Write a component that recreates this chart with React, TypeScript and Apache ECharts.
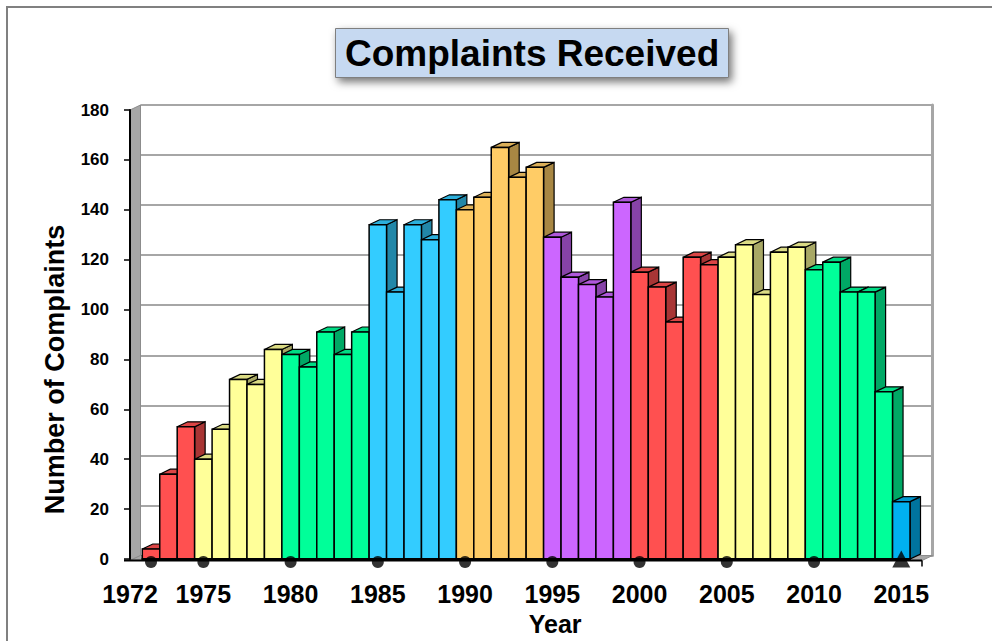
import React, { useEffect, useRef } from 'react';
import * as echarts from 'echarts';

// ---------------- data ----------------
const years: string[] = [
  '1972', '1973', '1974',
  '1975', '1976', '1977', '1978', '1979',
  '1980', '1981', '1982', '1983', '1984',
  '1985', '1986', '1987', '1988', '1989',
  '1990', '1991', '1992', '1993', '1994',
  '1995', '1996', '1997', '1998', '1999',
  '2000', '2001', '2002', '2003', '2004',
  '2005', '2006', '2007', '2008', '2009',
  '2010', '2011', '2012', '2013', '2014',
  '2015',
];
const complaints: number[] = [
  4, 34, 53,
  40, 52, 72, 70, 84,
  82, 77, 91, 82, 91,
  134, 107, 134, 128, 144,
  140, 145, 165, 153, 157,
  129, 113, 110, 105, 143,
  115, 109, 95, 121, 118,
  121, 126, 106, 123, 125,
  116, 119, 107, 107, 67,
  23,
];
const labelYears: string[] = ['1972', '1975', '1980', '1985', '1990', '1995', '2000', '2005', '2010', '2015'];
const dotYears: string[] = ['1972', '1975', '1980', '1985', '1990', '1995', '2000', '2005', '2010'];
const triangleYears: string[] = ['2015'];

// ---------------- styles ----------------
const FONT = "'Liberation Sans', Arial, Helvetica, sans-serif";
const periodColors = ['#FF5050', '#FFFF99', '#00FF99', '#33CCFF', '#FFCC66', '#CC66FF', '#FF5050', '#FFFF99', '#00FF99', '#00B0F0'];
const DX = 10.5;
const DY = -5;

function colorFor(year: number): string {
  const p = year < 1975 ? 0 : Math.floor((year - 1975) / 5) + 1;
  return periodColors[Math.min(p, periodColors.length - 1)];
}
function shade(hex: string, f: number): string {
  const n = parseInt(hex.slice(1), 16);
  const r = Math.round(((n >> 16) & 255) * f);
  const g = Math.round(((n >> 8) & 255) * f);
  const b = Math.round((n & 255) * f);
  return `rgb(${r},${g},${b})`;
}

// layout (front plane)
const G_LEFT = 142.3;
const G_RIGHT = 82;
const G_TOP = 110;
const G_BOTTOM = 80.5;
const W = 992;
const H = 641;
const FRONT_X0 = 130;
const FRONT_X1 = 922;
const FRONT_Y0 = H - G_BOTTOM;
const FRONT_Y1 = G_TOP;

export default function App() {
  const ref = useRef<HTMLDivElement>(null);
  useEffect(() => {
    if (!ref.current) return;
    const chart = echarts.init(ref.current, null, { renderer: 'svg' });
    const option: any = {
      animation: false,
      backgroundColor: '#FFFFFF',
      title: {
        text: 'Complaints Received',
        left: 335,
        top: 28,
        padding: [6, 10, 6, 10],
        backgroundColor: '#C6D9F1',
        borderColor: '#7F7F7F',
        borderWidth: 1,
        shadowBlur: 8,
        shadowColor: 'rgba(0,0,0,0.55)',
        shadowOffsetX: 3,
        shadowOffsetY: 4,
        textStyle: { fontFamily: FONT, fontSize: 37, fontWeight: 'bold', color: '#000', lineHeight: 38 },
        z: 20,
      },
      grid: [
        { left: G_LEFT, right: G_RIGHT, top: G_TOP, bottom: G_BOTTOM },
        { left: FRONT_X0 + DX, right: W - FRONT_X1 - DX, top: G_TOP + DY, bottom: G_BOTTOM - DY },
      ],
      xAxis: [
        {
          type: 'category',
          gridIndex: 0,
          data: years,
          boundaryGap: true,
          axisLine: { show: true, lineStyle: { color: '#000', width: 2 } },
          axisTick: { show: false },
          axisLabel: {
            interval: (_i: number, v: string) => labelYears.includes(v),
            margin: 22,
            fontFamily: FONT,
            fontSize: 25,
            fontWeight: 'bold',
            color: '#000',
            formatter: (v: string) => (v === '1972' ? `{l|${v}}` : v),
            rich: {
              l: { fontFamily: FONT, fontSize: 25, fontWeight: 'bold', color: '#000', padding: [0, 42, 0, 0] },
            },
          },
          name: 'Year',
          nameLocation: 'middle',
          nameGap: 52,
          nameTextStyle: { fontFamily: FONT, fontSize: 25, fontWeight: 'bold', color: '#000', padding: [0, 0, 0, 58] },
          z: 6,
        },
        {
          type: 'category',
          gridIndex: 1,
          data: years,
          show: false,
        },
      ],
      yAxis: [
        {
          type: 'value',
          gridIndex: 0,
          min: 0,
          max: 180,
          interval: 20,
          offset: G_LEFT - FRONT_X0,
          axisLine: { show: true, lineStyle: { color: '#000', width: 2 } },
          axisTick: { show: true, length: 6, lineStyle: { color: '#000', width: 1.5 } },
          axisLabel: { fontFamily: FONT, fontSize: 17, fontWeight: 'bold', color: '#000', margin: 21 },
          splitLine: { show: false },
          name: 'Number of Complaints',
          nameLocation: 'middle',
          nameGap: 62,
          nameTextStyle: { fontFamily: FONT, fontSize: 27, fontWeight: 'bold', color: '#000', padding: [0, 70, 0, 0] },
          z: 6,
        },
        {
          type: 'value',
          gridIndex: 1,
          min: 0,
          max: 180,
          interval: 20,
          position: 'right',
          axisLine: { show: true, lineStyle: { color: '#A6A6A6', width: 3 } },
          axisTick: { show: false },
          axisLabel: { show: false },
          splitLine: { show: true, lineStyle: { color: '#A6A6A6', width: 2 } },
          z: 0,
        },
      ],
      graphic: [
        {
          type: 'rect',
          shape: { x: 7, y: 7, width: 1100, height: 800 },
          style: { fill: 'none', stroke: '#808080', lineWidth: 2 },
          z: 0,
          silent: true,
        },
        {
          type: 'polygon',
          shape: { points: [[FRONT_X0, FRONT_Y1], [FRONT_X0 + DX, FRONT_Y1 + DY], [FRONT_X0 + DX, FRONT_Y0 + DY], [FRONT_X0, FRONT_Y0]] },
          style: { fill: '#A6A6A6', stroke: '#8C8C8C', lineWidth: 1 },
          z: 1,
        },
        {
          type: 'polygon',
          shape: { points: [[FRONT_X0, FRONT_Y0], [FRONT_X0 + DX, FRONT_Y0 + DY], [FRONT_X1 + DX, FRONT_Y0 + DY], [FRONT_X1, FRONT_Y0]] },
          style: { fill: '#A6A6A6', stroke: '#8C8C8C', lineWidth: 1 },
          z: 1,
        },
        {
          type: 'line',
          shape: { x1: FRONT_X0 - 6, y1: FRONT_Y0, x2: FRONT_X1, y2: FRONT_Y0 },
          style: { stroke: '#000', lineWidth: 2 },
          z: 6,
        },
        {
          type: 'line',
          shape: { x1: FRONT_X1, y1: FRONT_Y0, x2: FRONT_X1, y2: FRONT_Y0 + 6 },
          style: { stroke: '#000', lineWidth: 1.5 },
          z: 6,
        },
      ],
      series: [
        {
          type: 'custom',
          xAxisIndex: 0,
          yAxisIndex: 0,
          data: complaints.map((v, i) => [i, v]),
          encode: { x: 0, y: 1 },
          z: 3,
          renderItem: (_params: any, api: any) => {
            const idx = api.value(0);
            const v = api.value(1);
            const base = api.coord([idx, 0]);
            const top = api.coord([idx, v]);
            const w = api.size([1, 0])[0];
            const xl = base[0] - w / 2;
            const xr = base[0] + w / 2;
            const yb = base[1];
            const yt = top[1];
            const c = colorFor(parseInt(years[idx], 10));
            return {
              type: 'group',
              children: [
                {
                  type: 'polygon',
                  shape: { points: [[xr, yt], [xr + DX, yt + DY], [xr + DX, yb + DY], [xr, yb]] },
                  style: { fill: shade(c, 0.66), stroke: '#000', lineWidth: 1.2 },
                },
                {
                  type: 'polygon',
                  shape: { points: [[xl, yt], [xl + DX, yt + DY], [xr + DX, yt + DY], [xr, yt]] },
                  style: { fill: shade(c, 0.86), stroke: '#000', lineWidth: 1.2 },
                },
                {
                  type: 'rect',
                  shape: { x: xl, y: yt, width: w, height: yb - yt },
                  style: { fill: c, stroke: '#000', lineWidth: 1.5 },
                },
              ],
            };
          },
        },
        {
          type: 'scatter',
          xAxisIndex: 0,
          yAxisIndex: 0,
          data: dotYears.map((y) => [y, 0]),
          symbol: 'circle',
          symbolSize: 12,
          symbolOffset: [0, 3],
          itemStyle: { color: '#000' },
          z: 8,
        },
        {
          type: 'scatter',
          xAxisIndex: 0,
          yAxisIndex: 0,
          data: triangleYears.map((y) => [y, 0]),
          symbol: 'triangle',
          symbolSize: [18, 17],
          symbolOffset: [0, 0],
          itemStyle: { color: '#000' },
          z: 8,
        },
      ],
    };
    chart.setOption(option);
    return () => chart.dispose();
  }, []);
  return <div ref={ref} style={{ position: 'absolute', left: 0, top: 0, width: W, height: H }} />;
}
